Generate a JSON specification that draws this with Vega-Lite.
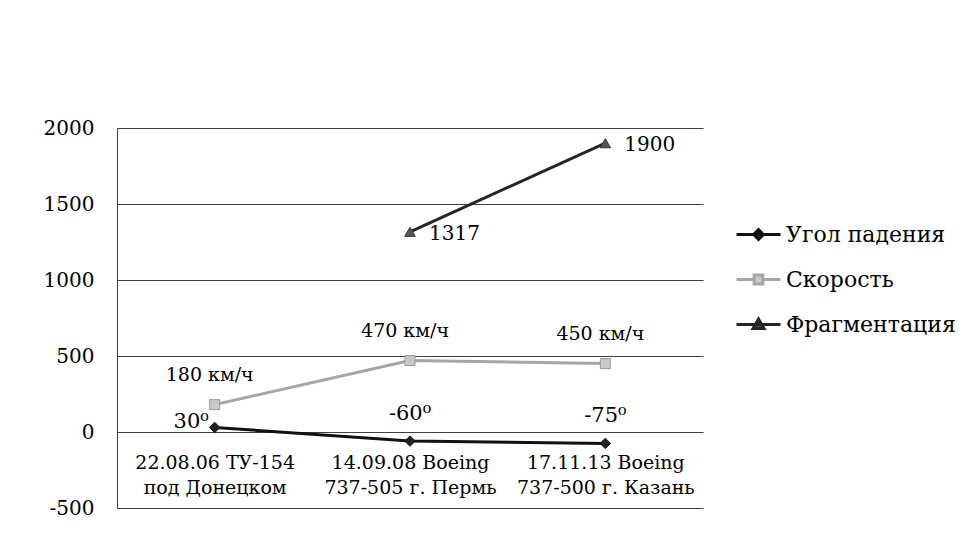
{
  "$schema": "https://vega.github.io/schema/vega-lite/v6.json",
  "width": 586,
  "height": 380,
  "autosize": {"type": "none"},
  "padding": {"left": 117, "top": 128, "right": 275, "bottom": 33},
  "background": "white",
  "config": {"view": {"stroke": null}, "font": "DejaVu Serif"},
  "data": {
    "values": [
      {"cat": "22.08.06 ТУ-154\nпод Донецком", "series": "Угол падения", "value": 30, "label": "30⁰"},
      {"cat": "14.09.08 Boeing\n737-505 г. Пермь", "series": "Угол падения", "value": -60, "label": "-60⁰"},
      {"cat": "17.11.13 Boeing\n737-500 г. Казань", "series": "Угол падения", "value": -75, "label": "-75⁰"},
      {"cat": "22.08.06 ТУ-154\nпод Донецком", "series": "Скорость", "value": 180, "label": "180 км/ч"},
      {"cat": "14.09.08 Boeing\n737-505 г. Пермь", "series": "Скорость", "value": 470, "label": "470 км/ч"},
      {"cat": "17.11.13 Boeing\n737-500 г. Казань", "series": "Скорость", "value": 450, "label": "450 км/ч"},
      {"cat": "14.09.08 Boeing\n737-505 г. Пермь", "series": "Фрагментация", "value": 1317, "label": "1317"},
      {"cat": "17.11.13 Boeing\n737-500 г. Казань", "series": "Фрагментация", "value": 1900, "label": "1900"}
    ]
  },
  "encoding": {
    "x": {
      "field": "cat", "type": "nominal", "sort": null,
      "scale": {"type": "point", "padding": 0.5},
      "axis": {
        "title": null, "orient": "bottom", "offset": -76, "domain": false, "ticks": false, "grid": false,
        "labelAngle": 0, "labelPadding": 21, "labelFontSize": 19, "labelLineHeight": 25,
        "labelExpr": "split(datum.label, '\\n')", "labelLimit": 0, "labelOverlap": false,
        "labelColor": "#000", "labelFont": "DejaVu Serif"
      }
    },
    "y": {
      "field": "value", "type": "quantitative",
      "scale": {"domain": [-500, 2000], "nice": false, "zero": false},
      "axis": {
        "title": null, "values": [-500, 0, 500, 1000, 1500, 2000], "labelExpr": "datum.value + ''",
        "grid": true, "gridColor": "#404040", "gridOpacity": 1, "gridWidth": 1,
        "domain": true, "domainColor": "#404040", "domainWidth": 1, "ticks": false,
        "labelPadding": 23, "labelFontSize": 20, "labelColor": "#000", "labelFont": "DejaVu Serif"
      }
    }
  },
  "layer": [
    {
      "mark": {"type": "line", "strokeWidth": 3, "strokeJoin": "round"},
      "encoding": {
        "color": {
          "field": "series", "type": "nominal",
          "scale": {"domain": ["Угол падения", "Скорость", "Фрагментация"], "range": ["#111111", "#a6a6a6", "#262626"]},
          "legend": {
            "title": null, "orient": "none", "legendX": 618, "legendY": 83,
            "symbolSize": 1936, "symbolStrokeWidth": 3, "rowPadding": 10, "labelOffset": 4,
            "labelFontSize": 22, "labelFont": "DejaVu Serif", "labelColor": "#000", "labelLimit": 0,
            "encode": {
              "symbols": {
                "update": {
                  "shape": {"signal": "datum.value === 'Угол падения' ? 'M-1,0H1M0,-0.22L0.22,0L0,0.22L-0.22,0Z' : datum.value === 'Скорость' ? 'M-1,0H-0.2M0.2,0H1M-0.2,-0.2H0.2V0.2H-0.2Z' : 'M-1,0H1M0,-0.25L0.25,0.18H-0.25Z'"},
                  "fill": {"signal": "datum.value === 'Угол падения' ? '#222222' : datum.value === 'Скорость' ? '#c8c8c8' : '#555555'"},
                  "stroke": {"signal": "datum.value === 'Угол падения' ? '#111111' : datum.value === 'Скорость' ? '#a6a6a6' : '#262626'"},
                  "strokeWidth": {"value": 3},
                  "opacity": {"value": 1}
                }
              }
            }
          }
        }
      }
    },
    {
      "transform": [{"filter": "datum.series === 'Угол падения'"}],
      "mark": {"type": "point", "shape": "diamond", "filled": true, "fill": "#222222", "stroke": "#111111", "strokeWidth": 1, "size": 110, "opacity": 1}
    },
    {
      "transform": [{"filter": "datum.series === 'Скорость'"}],
      "mark": {"type": "point", "shape": "square", "filled": true, "fill": "#c8c8c8", "stroke": "#999999", "strokeWidth": 1, "size": 100, "opacity": 1}
    },
    {
      "transform": [{"filter": "datum.series === 'Фрагментация'"}],
      "mark": {"type": "point", "shape": "triangle-up", "filled": true, "fill": "#555555", "stroke": "#333333", "strokeWidth": 1, "size": 110, "opacity": 1}
    },
    {
      "transform": [{"filter": "datum.series === 'Угол падения' && datum.value > 0"}],
      "mark": {"type": "text", "align": "right", "baseline": "middle", "dx": -6, "dy": -5, "fontSize": 21, "font": "DejaVu Serif", "color": "#000"},
      "encoding": {"text": {"field": "label"}}
    },
    {
      "transform": [{"filter": "datum.series === 'Угол падения' && datum.value < 0"}],
      "mark": {"type": "text", "align": "center", "baseline": "middle", "dy": -27, "fontSize": 21, "font": "DejaVu Serif", "color": "#000"},
      "encoding": {"text": {"field": "label"}}
    },
    {
      "transform": [{"filter": "datum.series === 'Скорость'"}],
      "mark": {"type": "text", "align": "center", "baseline": "middle", "dx": -5, "dy": -30, "fontSize": 19, "font": "DejaVu Serif", "color": "#000"},
      "encoding": {"text": {"field": "label"}}
    },
    {
      "transform": [{"filter": "datum.series === 'Фрагментация'"}],
      "mark": {"type": "text", "align": "left", "baseline": "middle", "dx": 19, "dy": 2, "fontSize": 20, "font": "DejaVu Serif", "color": "#000"},
      "encoding": {"text": {"field": "label"}}
    }
  ]
}
